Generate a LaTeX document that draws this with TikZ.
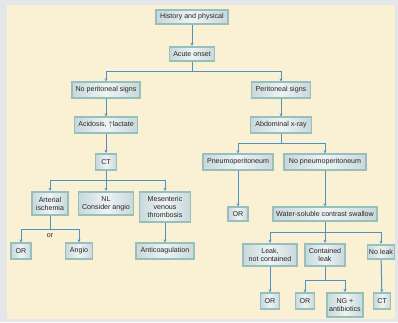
\documentclass[tikz,border=0pt]{standalone}
\usepackage{fontspec}
\setmainfont{Liberation Sans}
\usetikzlibrary{arrows.meta,shadows}
\definecolor{bggray}{HTML}{E4E7EA}
\definecolor{cream}{HTML}{FAF0D3}
\definecolor{boxedge}{HTML}{97C0BC}
\definecolor{boxmid}{HTML}{EEF3F3}
\definecolor{boxside}{HTML}{C8D8DB}
\definecolor{arrowblue}{HTML}{4F93C3}
\tikzset{
  fbox/.style={draw=boxedge, line width=1.8pt, left color=boxside, right color=boxside, middle color=boxmid,
    drop shadow={shadow xshift=0.8pt, shadow yshift=-0.8pt, fill=black, opacity=0.15},
    inner sep=1pt, align=center, font=\fontsize{7.1}{8}\selectfont, text=black!85},
  link/.style={draw=arrowblue, line width=1pt},
  arr/.style={link, -{Stealth[length=3pt,width=3pt]}},
}
\begin{document}
\begin{tikzpicture}[x=1pt,y=-1pt]
\fill[bggray] (0,0) rectangle (398,322);
\fill[cream] (7,5) rectangle (395,319);
\useasboundingbox (0,0) rectangle (398,322);

\node[fbox, minimum width=72pt, minimum height=14.5pt] (hp) at (192,17) {History and physical};
\node[fbox, minimum width=45pt, minimum height=14.5pt] (ao) at (192,54) {Acute onset};
\node[fbox, minimum width=68pt, minimum height=15.5pt] (nps) at (106,90) {No peritoneal signs};
\node[fbox, minimum width=59pt, minimum height=15.5pt] (ps) at (281,90) {Peritoneal signs};
\node[fbox, minimum width=63pt, minimum height=15.5pt] (acid) at (106,125) {Acidosis, $\uparrow$lactate};
\node[fbox, minimum width=61pt, minimum height=15.5pt] (axr) at (281,125) {Abdominal x-ray};
\node[fbox, minimum width=21pt, minimum height=16.5pt] (ct) at (106,162) {CT};
\node[fbox, minimum width=36pt, minimum height=23.5pt] (ai) at (50,203.5) {Arterial\\ischemia};
\node[fbox, minimum width=55pt, minimum height=23.5pt] (nl) at (106,203.5) {NL\\Consider angio};
\node[fbox, minimum width=51pt, minimum height=30.5pt] (mvt) at (165,207) {Mesenteric\\venous\\thrombosis};
\node[fbox, minimum width=20pt, minimum height=15.5pt] (or1) at (21,251) {OR};
\node[fbox, minimum width=27pt, minimum height=15.5pt] (angio) at (79,251) {Angio};
\node[fbox, minimum width=58pt, minimum height=15.5pt] (antic) at (165,251) {Anticoagulation};
\node[fbox, minimum width=70pt, minimum height=15.5pt] (pn) at (238,162) {Pneumoperitoneum};
\node[fbox, minimum width=82pt, minimum height=15.5pt] (npn) at (325,162) {No pneumoperitoneum};
\node[fbox, minimum width=20pt, minimum height=13.5pt] (or2) at (238,214) {OR};
\node[fbox, minimum width=104pt, minimum height=13.5pt] (wscs) at (325,214) {Water-soluble contrast swallow};
\node[fbox, minimum width=54pt, minimum height=22.5pt] (lnc) at (270,255) {Leak,\\not contained};
\node[fbox, minimum width=40pt, minimum height=22.5pt] (cl) at (325,255) {Contained\\leak};
\node[fbox, minimum width=27pt, minimum height=14.5pt] (nol) at (381,252) {No leak};
\node[fbox, minimum width=19pt, minimum height=15.5pt] (or3) at (270,301) {OR};
\node[fbox, minimum width=19pt, minimum height=15.5pt] (or4) at (305,301) {OR};
\node[fbox, minimum width=36pt, minimum height=24.5pt] (ng) at (345,305) {NG +\\antibiotics};
\node[fbox, minimum width=17pt, minimum height=15.5pt] (ct2) at (382,301) {CT};

\coordinate (s1) at (192,71);
\coordinate (s2) at (106,180);
\coordinate (s3) at (50,229);
\coordinate (s4) at (281,143);
\coordinate (s5) at (325,232);
\coordinate (s6) at (325,280);

\draw[arr] (hp) -- (ao);
\draw[link] (ao) -- (s1);
\draw[arr] (s1) -| (nps);
\draw[arr] (s1) -| (ps);
\draw[arr] (nps) -- (acid);
\draw[arr] (acid) -- (ct);
\draw[link] (ct) -- (s2);
\draw[arr] (s2) -| (ai);
\draw[arr] (s2) -- (nl);
\draw[arr] (s2) -| (mvt);
\draw[link] (ai) -- (s3);
\draw[arr] (s3) -| (or1);
\draw[arr] (s3) -| (angio);
\node[font=\fontsize{7.1}{8}\selectfont, text=black!85] (orlbl) at (50,235.5) {or};
\draw[arr] (mvt) -- (antic);
\draw[arr] (ps) -- (axr);
\draw[link] (axr) -- (s4);
\draw[arr] (s4) -| (pn);
\draw[arr] (s4) -| (npn);
\draw[arr] (pn) -- (or2);
\draw[arr] (npn) -- (wscs);
\draw[link] (wscs) -- (s5);
\draw[arr] (s5) -| (lnc);
\draw[arr] (s5) -- (cl);
\draw[arr] (s5) -| (nol);
\draw[arr] (lnc) -- (or3);
\draw[link] (cl) -- (s6);
\draw[arr] (s6) -| (or4);
\draw[arr] (s6) -| (ng);
\draw[arr] (nol) -- (ct2);
\end{tikzpicture}
\end{document}
